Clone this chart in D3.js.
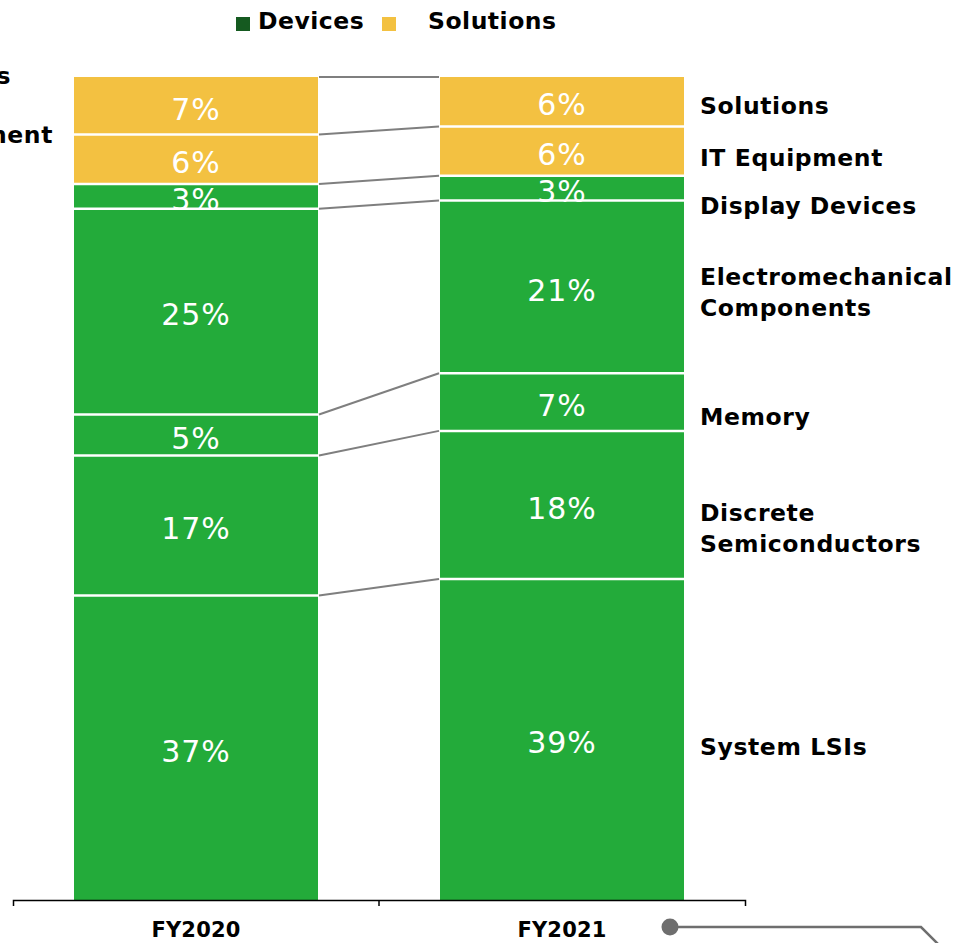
<!DOCTYPE html>
<html>
<head>
<meta charset="utf-8">
<script src="https://cdn.jsdelivr.net/npm/d3@7"></script>
<style>
  html, body { margin: 0; padding: 0; background: #fff; }
  svg { display: block; }
  text { font-family: "DejaVu Sans", Verdana, sans-serif; }
</style>
</head>
<body>
<svg id="chart" width="957" height="943"></svg>
<script>
// Fiscal years shown as columns
const years = ["FY2020", "FY2021"];

// Segments, stacked from the bottom up
const segments = [
  "System LSIs",
  "Discrete Semiconductors",
  "Memory",
  "Electromechanical Components",
  "Display Devices",
  "IT Equipment",
  "Solutions"
];

// Which business each segment belongs to
const segmentGroup = ["Devices", "Devices", "Devices", "Devices", "Devices", "Solutions", "Solutions"];

// Share of sales (%) per segment, same order as `segments`
const sharesFY2020 = [37, 17, 5, 25, 3, 6, 7];
const sharesFY2021 = [39, 18, 7, 21, 3, 6, 6];

// Legend entries
const legendItems = ["Devices", "Solutions"];

// Right-hand labels (line-broken)
const segmentLabelLines = [
  ["System LSIs"],
  ["Discrete", "Semiconductors"],
  ["Memory"],
  ["Electromechanical", "Components"],
  ["Display Devices"],
  ["IT Equipment"],
  ["Solutions"]
];

// Labels of the neighbouring panel that run in from the left edge
const neighbourLabels = ["Solutions", "IT Equipment"];

// ---- layout ----
const svg = d3.select("#chart");
const colors = { Devices: "#23ab3a", Solutions: "#f3c141" };
const legendColors = { Devices: "#155a20", Solutions: "#f3c141" };

const x = d3.scaleBand().domain(years).range([13, 745]).padding(0);
const y = d3.scaleLinear().domain([0, 100]).range([900, 77]);
const barOffset = x.step() / 6;
const barWidth = x.step() * 2 / 3;

// Cumulative stacks
const byYear = { FY2020: sharesFY2020, FY2021: sharesFY2021 };
const stacked = years.map(yr => {
  let acc = 0;
  return byYear[yr].map((v, i) => {
    const d = { year: yr, seg: segments[i], group: segmentGroup[i], value: v, y0: acc, y1: acc + v, i };
    acc += v;
    return d;
  });
});

// Connector lines between the two columns at every boundary
const boundaries = d3.range(segments.length).map(i => [stacked[0][i].y1, stacked[1][i].y1]);
svg.append("g")
  .selectAll("line")
  .data(boundaries)
  .join("line")
  .attr("x1", x("FY2020") + barOffset + barWidth + 1)
  .attr("x2", x("FY2021") + barOffset - 1)
  .attr("y1", d => y(d[0]))
  .attr("y2", d => y(d[1]))
  .attr("stroke", "#7f7f7f")
  .attr("stroke-width", 2);

// Bars
const barG = svg.append("g");
stacked.forEach(col => {
  const g = barG.append("g");
  g.selectAll("rect")
    .data(col)
    .join("rect")
    .attr("x", d => x(d.year) + barOffset)
    .attr("width", barWidth)
    .attr("y", d => y(d.y1))
    .attr("height", d => y(d.y0) - y(d.y1))
    .attr("fill", d => colors[d.group]);

  g.selectAll("text")
    .data(col)
    .join("text")
    .attr("x", d => x(d.year) + barOffset + barWidth / 2)
    .attr("y", d => (y(d.y0) + y(d.y1)) / 2)
    .attr("dy", "0.46em")
    .attr("text-anchor", "middle")
    .attr("fill", "#fff")
    .attr("font-size", 30)
    .attr("letter-spacing", 1)
    .text(d => d.value + "%");

  // white separators between segments
  g.selectAll("line.sep")
    .data(col.slice(0, -1))
    .join("line")
    .attr("class", "sep")
    .attr("x1", d => x(d.year) + barOffset)
    .attr("x2", d => x(d.year) + barOffset + barWidth)
    .attr("y1", d => y(d.y1))
    .attr("y2", d => y(d.y1))
    .attr("stroke", "#fff")
    .attr("stroke-width", 2.5);
});

// Axis with boundary ticks
const axis = d3.axisBottom(x).tickSize(0).tickSizeOuter(6).tickPadding(22);
const axG = svg.append("g").attr("transform", "translate(0,900)").call(axis);
axG.select(".domain").attr("stroke", "#000").attr("stroke-width", 1.5);
axG.selectAll(".tick text")
  .attr("font-family", "'DejaVu Sans', Verdana, sans-serif")
  .attr("font-size", 21)
  .attr("font-weight", "bold")
  .attr("letter-spacing", 0.2)
  .attr("fill", "#000");
axG.append("line")
  .attr("x1", x("FY2021")).attr("x2", x("FY2021"))
  .attr("y1", 0).attr("y2", 6)
  .attr("stroke", "#000").attr("stroke-width", 1.5);

// Right-hand segment labels, aligned with the FY2021 column
const labelNudge = [7, 23, 14, 5, 17, 6, 4];
const lblG = svg.append("g").attr("font-size", 23.5).attr("font-weight", "bold")
  .attr("letter-spacing", 0.6).attr("fill", "#000");
stacked[1].forEach((d, i) => {
  const lines = segmentLabelLines[i];
  const cy = (y(d.y0) + y(d.y1)) / 2 + labelNudge[i];
  const lh = 31;
  const t = lblG.append("text").attr("x", 700);
  lines.forEach((ln, k) => {
    t.append("tspan")
      .attr("x", 700)
      .attr("y", cy + (k - (lines.length - 1) / 2) * lh)
      .attr("dy", "0.37em")
      .text(ln);
  });
});

// Neighbouring panel's labels cut by the left edge
const nbG = svg.append("g").attr("font-size", 23.5).attr("font-weight", "bold")
  .attr("letter-spacing", 0.6).attr("fill", "#000").attr("text-anchor", "end");
nbG.selectAll("text")
  .data(neighbourLabels)
  .join("text")
  .attr("x", (d, i) => [11, 53][i])
  .attr("y", (d, i) => [75, 134][i])
  .attr("dy", "0.37em")
  .text(d => d);

// Legend
const legG = svg.append("g");
const legX = [236, 382];
const legTextX = [258, 428];
legendItems.forEach((name, i) => {
  legG.append("rect")
    .attr("x", legX[i]).attr("y", 17).attr("width", 14).attr("height", 14)
    .attr("fill", legendColors[name]);
  legG.append("text")
    .attr("x", legTextX[i]).attr("y", 29)
    .attr("font-size", 23.5).attr("font-weight", "bold").attr("letter-spacing", 0.5)
    .attr("fill", "#000")
    .text(name);
});

// Decorative pointer at the bottom right
const ptr = svg.append("g").attr("stroke", "#6e6e6e").attr("fill", "none");
ptr.append("path")
  .attr("d", d3.line()([[671, 927], [921, 927], [940, 946]]))
  .attr("stroke-width", 2.5);
ptr.append("circle").attr("cx", 670).attr("cy", 927).attr("r", 8.5)
  .attr("fill", "#6e6e6e").attr("stroke", "none");
</script>
</body>
</html>
